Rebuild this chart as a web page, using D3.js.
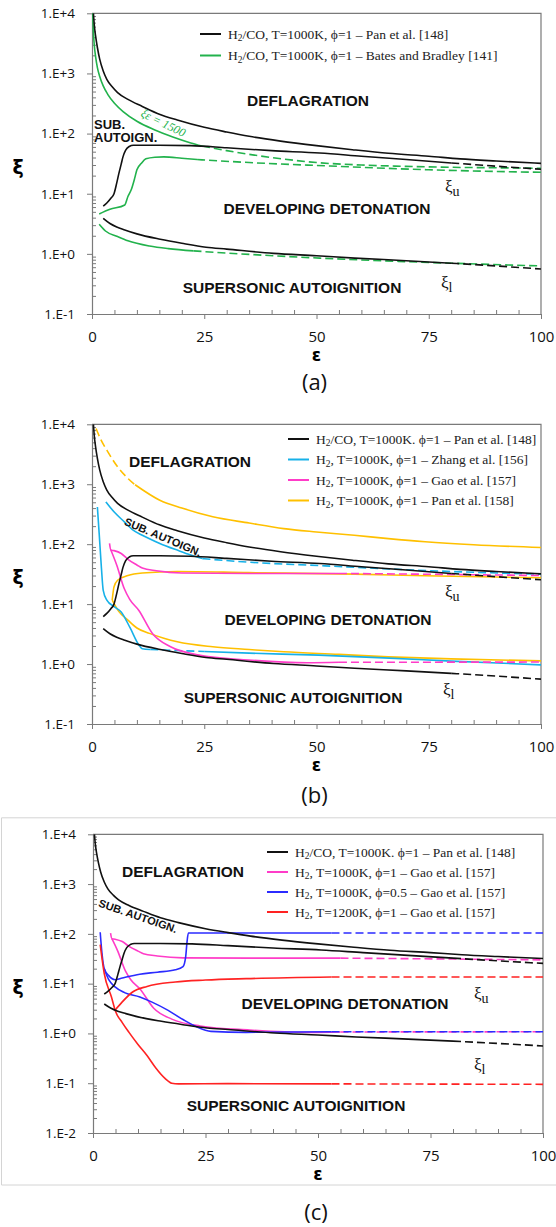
<!DOCTYPE html>
<html><head><meta charset="utf-8">
<script src="https://cdn.jsdelivr.net/npm/d3@7"></script>
<style>body{margin:0;background:#fff}svg{display:block}</style>
</head><body>
<svg id="chart" width="556" height="1227"></svg>
<script>
// ---------- tick data ----------
const xTickValues = [0, 25, 50, 75, 100];
const yTickValuesAB = [1e-1, 1e0, 1e1, 1e2, 1e3, 1e4];
const yTickLabelsAB = ["1.E-1", "1.E+0", "1.E+1", "1.E+2", "1.E+3", "1.E+4"];
const yTickValuesC = [1e-2, 1e-1, 1e0, 1e1, 1e2, 1e3, 1e4];
const yTickLabelsC = ["1.E-2", "1.E-1", "1.E+0", "1.E+1", "1.E+2", "1.E+3", "1.E+4"];

// ---------- series data [epsilon, xi] ----------
// Pan et al. [148] H2/CO (black) - same in all panels
const panDefl = [[0.32,10000],[0.5,6500],[0.8,4200],[1.2,2700],[1.7,1750],[2.5,1100],[3.3,800],[4.5,600],[5.7,480],[8,370],[11.2,283],[15,210],[19,168],[25,127],[30,106],[35,90],[42,75],[50,63],[58,54],[66,47],[75,42],[82,38],[90,35],[100,32]];
const panUpper = [[2.5,6.2],[3.3,7],[4.2,8.4],[4.9,10],[5.5,15],[6,22],[6.5,31],[6.9,41],[7.5,53],[8.3,61],[9.2,64],[15,64],[22,63],[30,58],[40,52],[50.7,47.5],[60,42],[70,37],[80,32.5]];
const panUpperDash = [[80,32.5],[90,28.7],[100,25.5]];
const panLower = [[2.5,3.9],[4,3.2],[5.5,2.8],[7.3,2.5],[10,2.15],[15.2,1.75],[20,1.5],[25.4,1.29],[30,1.2],[40.4,1.02],[50,0.93],[58.5,0.85],[70,0.77],[80,0.70]];
const panLowerDash = [[80,0.70],[90,0.63],[100,0.56]];

// Bates and Bradley [141] (green)
const batesDefl = [[0.15,10000],[0.3,5000],[0.5,3000],[0.8,1900],[1.2,1250],[1.7,900],[2.5,620],[3.5,450],[5,320],[7,230],[10,160],[14,115],[18,88],[22,70],[24.5,62]];
const batesUpperDash = [[24.5,62],[30,52],[40,40],[50,33],[60,30],[70,28.5],[80,27.5],[90,27],[100,26.5]];
const batesUpper = [[1.6,4.6],[4,5.5],[7.3,6.5],[8,9],[8.8,12],[9.5,18],[10,25],[11,32],[12,38],[14,40.5],[16,41],[20,39],[23.4,37]];
const batesUpperDash2 = [[23.4,37],[35,33],[50,29.5],[75,25],[100,22.7]];
const batesLower = [[1.6,3.1],[3,2.4],[5.7,1.94],[8,1.65],[12.8,1.35],[17,1.22],[22.6,1.12]];
const batesLowerDash = [[22.6,1.12],[35,0.98],[50.7,0.85],[75,0.72],[100,0.63]];

// Zhang et al. [156] (cyan)
const zhangUpper = [[3.1,508],[5,340],[7.2,236],[9,175],[11.2,141],[15.1,103],[19.1,79],[22,66],[24.6,57.5]];
const zhangUpperDash = [[24.6,57.5],[35,50],[50.5,44],[65,39],[80,35],[100,31.5]];
const zhangLower = [[1.2,417],[1.6,150],[2.1,40],[2.5,17],[3.3,11.7],[5,9],[6.5,7.4],[8.5,4],[10.4,2.1],[11.2,1.8],[13,1.75]];
const zhangLowerDash = [[13,1.75],[25,1.62]];
const zhangLower2 = [[25,1.62],[35,1.52],[50.5,1.41],[65,1.27],[80,1.12],[100,0.97]];

// Gao et al. [157] H2 T=1000K phi=1 (pink)
const gaoUpper = [[3.9,103],[4.2,80],[4.9,78],[6.5,70],[8,56],[10,45],[11.2,40],[14.3,36],[20,33],[35,32.5],[55,32.5]];
const gaoUpperDash = [[55,32.5],[75,31.5],[100,30]];
const gaoLower = [[4.2,80],[5.5,45],[7.2,18],[8.4,12],[10.4,7.9],[13.5,3.2],[17.5,1.94],[23.8,1.41],[34.8,1.17],[48,1.05],[55,1.07]];
const gaoLowerDash = [[55,1.07],[100,1.08]];

// Pan et al. [158] H2 (yellow)
const pan158DeflDash = [[0.9,8500],[2,5500],[3.3,3700],[5.7,1950],[8,1250],[9.6,980]];
const pan158Defl = [[9.6,980],[15.1,541],[20,400],[26.9,286],[35,225],[42.7,182],[50,160],[58.4,141],[66,124],[74.2,110],[85,98],[100,88]];
const pan158Upper = [[4.5,11.7],[4.9,19.4],[5.7,25],[8,30],[11.2,33],[19,35],[34.8,33.5],[58.4,31.6],[74,29.7],[100,27.5]];
const pan158Lower = [[4.5,11.7],[6,7.5],[8,5.4],[10,4],[12.8,3.25],[16,2.7],[19,2.35],[26.9,1.94],[35,1.75],[42.7,1.6],[55,1.45],[66,1.32],[80,1.22],[100,1.13]];

// Gao et al. [157] H2 T=1000K phi=0.5 (blue)
const gaoLeanUpper = [[1.6,108],[2,40],[2.5,20],[3.5,14.5],[4.9,12],[6.5,13],[10.4,15.5],[14.3,17],[18.3,19],[20,22],[20.6,35],[20.9,70],[21.2,104],[30,104],[53,104]];
const gaoLeanUpperDash = [[53,104],[100,104]];
const gaoLeanLower = [[2.5,20],[3.5,12],[4.9,8.6],[7,6.6],[10.4,5.4],[13,4.3],[16.7,2.9],[20,1.9],[23,1.36],[26.2,1.1],[34,1.05],[53,1.08]];
const gaoLeanLowerDash = [[53,1.08],[100,1.08]];

// Gao et al. [157] H2 T=1200K phi=1 (red)
const gaoHotUpper = [[5,3.0],[6.5,4.3],[8.8,6.8],[12,8.8],[18.3,10.8],[25,11.8],[34,12.6],[53,13.6]];
const gaoHotUpperDash = [[53,13.6],[100,13.6]];
const gaoHotLower = [[1.6,61],[2.5,16],[4.1,5.4],[5,2.8],[6.5,1.65],[8,1.05],[10,0.6],[12,0.36],[14,0.2],[16,0.125],[17.5,0.1],[19,0.097],[30,0.098],[53,0.097]];
const gaoHotLowerDash = [[53,0.097],[100,0.095]];

// ---------- colours / legend text ----------
const C = {black:"#111111", green:"#22b24c", cyan:"#17b1e8", pink:"#ff3cc8", yellow:"#ffc000", blue:"#2b2bff", red:"#ff2222"};

const legendA = [
  {c:C.black, t:["H","2","/CO, T=1000K, \u03d5=1 \u2013 Pan et al. [148]"]},
  {c:C.green, t:["H","2","/CO, T=1000K, \u03d5=1 \u2013 Bates and Bradley [141]"]}
];
const legendB = [
  {c:C.black, t:["H","2","/CO, T=1000K. \u03d5=1 \u2013 Pan et al. [148]"]},
  {c:C.cyan, t:["H","2",", T=1000K, \u03d5=1 \u2013 Zhang et al. [156]"]},
  {c:C.pink, t:["H","2",", T=1000K, \u03d5=1 \u2013 Gao et al. [157]"]},
  {c:C.yellow, t:["H","2",", T=1000K, \u03d5=1 \u2013 Pan et al. [158]"]}
];
const legendC = [
  {c:C.black, t:["H","2","/CO, T=1000K. \u03d5=1 \u2013 Pan et al. [148]"]},
  {c:C.pink, t:["H","2",", T=1000K, \u03d5=1 \u2013 Gao et al. [157]"]},
  {c:C.blue, t:["H","2",", T=1000K, \u03d5=0.5 \u2013 Gao et al. [157]"]},
  {c:C.red, t:["H","2",", T=1200K, \u03d5=1 \u2013 Gao et al. [157]"]}
];

const blackSeries = [
  {d:panDefl,c:C.black},{d:panUpper,c:C.black},{d:panUpperDash,c:C.black,dash:true},
  {d:panLower,c:C.black},{d:panLowerDash,c:C.black,dash:true}
];

const panels = [
  {L:92, R:541, T:13.3, B:314, ymin:1e-1, yv:yTickValuesAB, yl:yTickLabelsAB, cap:"(a)", capY:382, legend:legendA, legX:200, legY:34, legDy:21.5,
   series:[
    {d:batesDefl,c:C.green},{d:batesUpperDash,c:C.green,dash:true},
    {d:batesUpper,c:C.green},{d:batesUpperDash2,c:C.green,dash:true},
    {d:batesLower,c:C.green},{d:batesLowerDash,c:C.green,dash:true},
    ...blackSeries],
   labels:[
    {t:"DEFLAGRATION",x:308,y:100,s:15.5},
    {t:"SUB.",x:94,y:124,s:13,a:"start"},
    {t:"AUTOIGN.",x:94,y:137,s:13,a:"start"},
    {t:"DEVELOPING DETONATION",x:327,y:208,s:15.5},
    {t:"SUPERSONIC AUTOIGNITION",x:292,y:287,s:15.5}],
   xiu:[445,187], xil:[441,283]},
  {L:92, R:541, T:424.3, B:724, ymin:1e-1, yv:yTickValuesAB, yl:yTickLabelsAB, cap:"(b)", capY:795, legend:legendB, legX:288, legY:439, legDy:20.5,
   series:[
    {d:pan158DeflDash,c:C.yellow,dash:true},{d:pan158Defl,c:C.yellow},
    {d:pan158Upper,c:C.yellow},{d:pan158Lower,c:C.yellow},
    {d:zhangUpper,c:C.cyan},{d:zhangUpperDash,c:C.cyan,dash:true},
    {d:zhangLower,c:C.cyan},{d:zhangLowerDash,c:C.cyan,dash:true},{d:zhangLower2,c:C.cyan},
    {d:gaoUpper,c:C.pink},{d:gaoUpperDash,c:C.pink,dash:true},
    {d:gaoLower,c:C.pink},{d:gaoLowerDash,c:C.pink,dash:true},
    ...blackSeries],
   labels:[
    {t:"DEFLAGRATION",x:190,y:461,s:15.5},
    {t:"SUB. AUTOIGN.",x:163,y:537,s:11,r:23},
    {t:"DEVELOPING DETONATION",x:328,y:619,s:15.5},
    {t:"SUPERSONIC AUTOIGNITION",x:293,y:697,s:15.5}],
   xiu:[445,592], xil:[443,690]},
  {L:93, R:543, T:834.3, B:1133, ymin:1e-2, yv:yTickValuesC, yl:yTickLabelsC, cap:"(c)", capY:1212, legend:legendC, legX:267, legY:852, legDy:20,
   border:true,
   series:[
    {d:gaoUpper,c:C.pink},{d:gaoUpperDash,c:C.pink,dash:true},
    {d:gaoLower,c:C.pink},{d:gaoLowerDash,c:C.pink,dash:true},
    {d:gaoLeanUpper,c:C.blue},{d:gaoLeanUpperDash,c:C.blue,dash:true},
    {d:gaoLeanLower,c:C.blue},{d:gaoLeanLowerDash,c:C.blue,dash:true},
    {d:gaoHotUpper,c:C.red},{d:gaoHotUpperDash,c:C.red,dash:true},
    {d:gaoHotLower,c:C.red},{d:gaoHotLowerDash,c:C.red,dash:true},
    ...blackSeries],
   labels:[
    {t:"DEFLAGRATION",x:183,y:871,s:15.5},
    {t:"SUB. AUTOIGN.",x:138,y:916,s:11,r:19},
    {t:"DEVELOPING DETONATION",x:345,y:1003,s:15.5},
    {t:"SUPERSONIC AUTOIGNITION",x:296,y:1105,s:15.5}],
   xiu:[474,994], xil:[474,1065]}
];

const svg = d3.select("#chart");
const axisCol = "#7a7a7a";
const tickFont = "'Open Sans', 'Liberation Sans', sans-serif";

panels.forEach(p => {
  const g = svg.append("g");
  const x = d3.scaleLinear().domain([0, 100]).range([p.L, p.R]);
  const y = d3.scaleLog().domain([p.ymin, 1e4]).range([p.B, p.T]);

  if (p.border) {
    g.append("path").attr("d", `M600,${p.T-16.5}H1.5V${p.B+52}H600`).attr("fill","none").attr("stroke","#d4d4d4").attr("stroke-width",1);
  }

  // frame (top, right)
  g.append("path").attr("d", `M${p.L},${p.T}H${p.R}V${p.B}`).attr("fill","none").attr("stroke",axisCol).attr("stroke-width",1.2);

  // y axis: major outward, minor inward
  const yAx = d3.axisLeft(y).tickValues(p.yv).tickFormat((d,i)=>p.yl[i]).tickSizeInner(5).tickSizeOuter(0).tickPadding(12);
  const ya = g.append("g").attr("transform",`translate(${p.L},0)`).call(yAx);
  ya.select(".domain").attr("stroke",axisCol).attr("stroke-width",1.2);
  ya.selectAll(".tick line").attr("stroke",axisCol);
  ya.selectAll(".tick text").attr("font-family",tickFont).attr("font-size",13.5).attr("fill","#111");
  const minors = [];
  const lo = Math.round(Math.log10(p.ymin));
  for (let e = lo; e < 4; e++) for (let k = 2; k <= 9; k++) minors.push(k * Math.pow(10, e));
  const yMin = d3.axisRight(y).tickValues(minors).tickFormat("").tickSizeInner(4).tickSizeOuter(0);
  const ym = g.append("g").attr("transform",`translate(${p.L},0)`).call(yMin);
  ym.select(".domain").remove();
  ym.selectAll(".tick line").attr("stroke",axisCol);

  // x axis: major outward, minor inward
  const xAx = d3.axisBottom(x).tickValues(xTickValues).tickSizeInner(5).tickSizeOuter(0).tickPadding(12);
  const xa = g.append("g").attr("transform",`translate(0,${p.B})`).call(xAx);
  xa.select(".domain").attr("stroke",axisCol).attr("stroke-width",1.2);
  xa.selectAll(".tick line").attr("stroke",axisCol);
  xa.selectAll(".tick text").attr("font-family",tickFont).attr("font-size",15).attr("fill","#111");
  const xMinorVals = d3.range(5, 100, 5).filter(v => v % 25 !== 0);
  const xm = g.append("g").attr("transform",`translate(0,${p.B})`).call(d3.axisTop(x).tickValues(xMinorVals).tickFormat("").tickSizeInner(4).tickSizeOuter(0));
  xm.select(".domain").remove();
  xm.selectAll(".tick line").attr("stroke",axisCol);

  // titles
  g.append("text").attr("x",(p.L+p.R)/2).attr("y",p.B+47).attr("text-anchor","middle")
    .attr("font-family","'DejaVu Sans', sans-serif").attr("font-weight","bold").attr("font-size",17).text("\u03b5");
  g.append("text").attr("x",18).attr("y",(p.T+p.B)/2+10).attr("text-anchor","middle")
    .attr("font-family","'DejaVu Sans', sans-serif").attr("font-weight","bold").attr("font-size",19).text("\u03be");
  g.append("text").attr("x",(p.L+p.R)/2-2).attr("y",p.capY+8).attr("text-anchor","middle")
    .attr("font-family",tickFont).attr("font-size",22).attr("fill","#111").text(p.cap);

  // series
  const clipId = "clip" + p.cap.replace(/\W/g,"");
  svg.append("clipPath").attr("id",clipId).append("rect").attr("x",p.L).attr("y",p.T).attr("width",p.R-p.L).attr("height",p.B-p.T);
  const line = d3.line().x(d=>x(d[0])).y(d=>y(d[1])).curve(d3.curveMonotoneX);
  const sg = g.append("g").attr("clip-path",`url(#${clipId})`);
  p.series.forEach(s => {
    sg.append("path").attr("d", line(s.d)).attr("fill","none").attr("stroke",s.c)
      .attr("stroke-width",1.6).attr("stroke-dasharray", s.dash ? "8,4" : null);
  });

  // region labels
  p.labels.forEach(l => {
    const t = g.append("text").attr("x",l.x).attr("y",l.y).attr("dy","0.36em")
      .attr("text-anchor", l.a || "middle").attr("font-family","'Liberation Sans', Arial, sans-serif")
      .attr("font-weight","bold").attr("font-size",l.s).attr("fill","#111").text(l.t);
    if (l.r) t.attr("transform",`rotate(${l.r},${l.x},${l.y})`);
  });

  // xi_u, xi_l
  [[p.xiu,"u"],[p.xil,"l"]].forEach(([pos,sub]) => {
    const t = g.append("text").attr("x",pos[0]).attr("y",pos[1]+5).attr("font-family","'Liberation Serif', serif").attr("font-size",17).attr("fill","#111");
    t.append("tspan").text("\u03be");
    t.append("tspan").attr("dy",4).attr("font-size",14).text(sub);
  });

  // legend
  p.legend.forEach((e,i) => {
    const ly = p.legY + i*p.legDy;
    g.append("line").attr("x1",p.legX).attr("x2",p.legX+21).attr("y1",ly).attr("y2",ly).attr("stroke",e.c).attr("stroke-width",2);
    const t = g.append("text").attr("x",p.legX+28).attr("y",ly+4.5).attr("font-family","'Liberation Serif', serif").attr("font-size",13.5).attr("fill","#222");
    t.append("tspan").text(e.t[0]);
    t.append("tspan").attr("font-size",9.5).attr("dy",2.5).text(e.t[1]);
    t.append("tspan").attr("dy",-2.5).text(e.t[2]);
  });
});

// xi*eps = 1500 annotation (panel a)
svg.append("text").attr("transform","translate(140,116) rotate(26)")
  .attr("font-family","'Liberation Serif', serif").attr("font-style","italic").attr("font-size",12).attr("fill",C.green)
  .text("\u03be\u03b5 = 1500");
</script></body></html>
